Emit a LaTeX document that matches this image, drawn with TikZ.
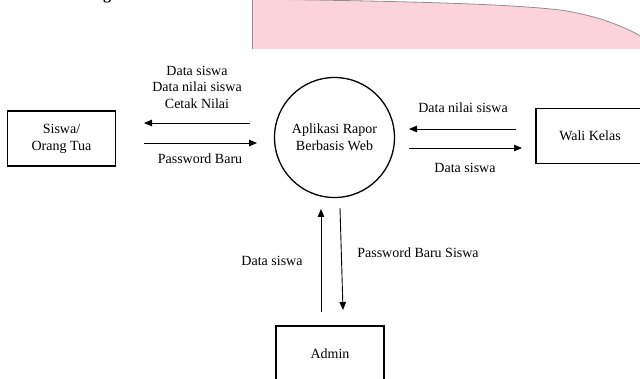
\documentclass[tikz,border=0pt]{standalone}
\usepackage{fontspec}
\setmainfont{Liberation Serif}
\usetikzlibrary{arrows.meta}
\definecolor{pinkfill}{RGB}{252,211,219}
\definecolor{pinkedge}{RGB}{150,140,142}
\begin{document}
\begin{tikzpicture}[x=1pt,y=-1pt,
  lbl/.style={font=\fontsize{14}{16.5}\selectfont, inner sep=0pt, align=center},
  entity/.style={draw, line width=1.8pt, minimum width=108pt, minimum height=55pt,
    inner sep=0pt, align=center, font=\fontsize{14}{17}\selectfont},
  process/.style={draw, circle, line width=1.3pt, minimum size=120pt, inner sep=0pt,
    align=center, font=\fontsize{14}{17}\selectfont},
  flow/.style={line width=0.9pt, -{Triangle[length=8pt,width=6.5pt]}}]

\useasboundingbox (0,0) rectangle (640,379);
\clip (0,0) rectangle (640,379);

% heading fragment and the pink panel at the top
\node[anchor=base, inner sep=0pt, font=\fontsize{16}{18}\selectfont\bfseries] (headg) at (107,0) {g};
\fill[pinkfill] (252.5,49) -- (252.5,-1) .. controls (380,1) and (500,3) .. (560,10)
  .. controls (600,16) and (625,27) .. (646,39) -- (646,49) -- cycle;
\draw[pinkedge, line width=0.8pt] (252.5,49) -- (252.5,-1) .. controls (380,1) and (500,3) .. (560,10)
  .. controls (600,16) and (625,27) .. (646,39);

% external entities and the process
\node[entity] (siswa) at (61.5,138.5) {Siswa/\\Orang Tua};
\node[process] (app) at (334.5,137.5) {Aplikasi Rapor\\Berbasis Web};
\node[entity] (wali) at (590,136) {Wali Kelas};
\node[entity] (admin) at (330,353.5) {Admin};

% flow end points
\coordinate (a1s) at (250,123); \coordinate (a1e) at (144,123);
\coordinate (a2s) at (144,143); \coordinate (a2e) at (257,143);
\coordinate (b1s) at (516,129); \coordinate (b1e) at (409,129);
\coordinate (b2s) at (409,148); \coordinate (b2e) at (522,148);
\coordinate (c1s) at (321,312); \coordinate (c1e) at (321,209);
\coordinate (c2s) at (340,208); \coordinate (c2e) at (343,310);

\draw[flow] (a1s) -- (a1e);
\draw[flow] (a2s) -- (a2e);
\draw[flow] (b1s) -- (b1e);
\draw[flow] (b2s) -- (b2e);
\draw[flow] (c1s) -- (c1e);
\draw[flow] (c2s) -- (c2e);

% flow labels
\node[lbl] (la1) at (197,87) {Data siswa\\Data nilai siswa\\Cetak Nilai};
\node[lbl] (la2) at (200,159) {Password Baru};
\node[lbl] (lb1) at (463,108) {Data nilai siswa};
\node[lbl] (lb2) at (465,168) {Data siswa};
\node[lbl] (lc1) at (272,261) {Data siswa};
\node[lbl] (lc2) at (418,253) {Password Baru Siswa};
\end{tikzpicture}
\end{document}
